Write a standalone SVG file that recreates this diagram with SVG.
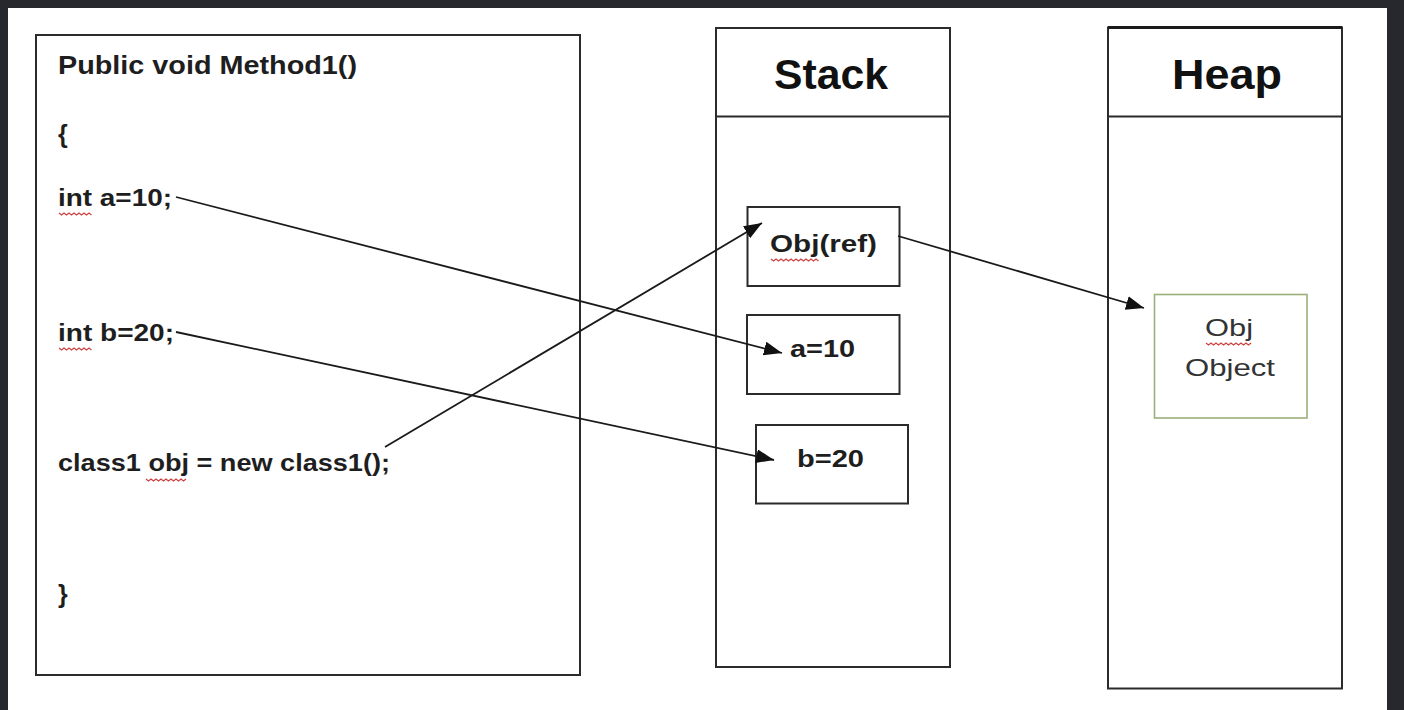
<svg xmlns="http://www.w3.org/2000/svg" width="1404" height="710" viewBox="0 0 1404 710">
  <style>
    .box { fill: #ffffff; stroke: #2b2b2b; stroke-width: 2; }
    .line { fill: none; stroke: #2b2b2b; stroke-width: 2; }
    .code { font-family: "Liberation Sans", Arial, sans-serif; font-weight: bold; fill: #1e1e1e; }
    .title { font-family: "Liberation Sans", Arial, sans-serif; font-weight: bold; font-size: 43px; fill: #111111; text-anchor: middle; }
    .cell { font-family: "Liberation Sans", Arial, sans-serif; font-weight: bold; font-size: 23px; fill: #1e1e1e; }
    .obj { font-family: "Liberation Sans", Arial, sans-serif; font-size: 24px; fill: #333333; }
    .conn { fill: none; stroke: #1a1a1a; stroke-width: 1.8; marker-end: url(#arrow); }
    .squig { fill: none; stroke: #d04040; stroke-width: 1.2; }
  </style>
  <defs>
    <marker id="arrow" markerUnits="userSpaceOnUse" markerWidth="20" markerHeight="16" refX="18" refY="7" orient="auto">
      <path d="M0,0 L18,7 L0,14 Z" fill="#111111"/>
    </marker>
  </defs>

  <rect x="0" y="0" width="1404" height="710" fill="#27282e"/>
  <rect x="8" y="8" width="1379" height="702" fill="#ffffff"/>

  <g id="method">
    <rect class="box" x="36" y="35" width="544" height="640"/>
    <text class="code" x="58" y="74" font-size="25" textLength="299" lengthAdjust="spacingAndGlyphs">Public void Method1()</text>
    <text class="code" x="58" y="143" font-size="25">{</text>
    <text class="code" x="58" y="206" font-size="24" textLength="114" lengthAdjust="spacingAndGlyphs">int a=10;</text>
    <path class="squig" d="M59,213 l2.5,2 l2.5,-2 l2.5,2 l2.5,-2 l2.5,2 l2.5,-2 l2.5,2 l2.5,-2 l2.5,2 l2.5,-2 l2.5,2 l2.5,-2 l2.5,2"/>
    <text class="code" x="58" y="341" font-size="24" textLength="116" lengthAdjust="spacingAndGlyphs">int b=20;</text>
    <path class="squig" d="M59,348 l2.5,2 l2.5,-2 l2.5,2 l2.5,-2 l2.5,2 l2.5,-2 l2.5,2 l2.5,-2 l2.5,2 l2.5,-2 l2.5,2 l2.5,-2 l2.5,2"/>
    <text class="code" x="58" y="471" font-size="24" textLength="332" lengthAdjust="spacingAndGlyphs">class1 obj = new class1();</text>
    <path class="squig" d="M146,479 l2.5,2 l2.5,-2 l2.5,2 l2.5,-2 l2.5,2 l2.5,-2 l2.5,2 l2.5,-2 l2.5,2 l2.5,-2 l2.5,2 l2.5,-2 l2.5,2 l2.5,-2 l2.5,2 l2.5,-2"/>
    <text class="code" x="58" y="603" font-size="25">}</text>
  </g>

  <g id="stack">
    <rect class="box" x="716" y="28" width="234" height="639"/>
    <line class="line" x1="716" y1="116.5" x2="950" y2="116.5"/>
    <text class="title" x="831" y="89" textLength="114" lengthAdjust="spacingAndGlyphs">Stack</text>
  </g>

  <g id="heap">
    <rect class="box" x="1108" y="27.5" width="234" height="661"/>
    <line x1="1108" y1="27.5" x2="1342" y2="27.5" stroke="#1a1a1a" stroke-width="3"/>
    <line class="line" x1="1108" y1="116.5" x2="1342" y2="116.5"/>
    <text class="title" x="1227" y="89" textLength="110" lengthAdjust="spacingAndGlyphs">Heap</text>
  </g>

  <g id="obj-ref">
    <rect class="box" x="747.5" y="207" width="152" height="79"/>
    <text class="cell" x="770" y="252" textLength="107" lengthAdjust="spacingAndGlyphs">Obj(ref)</text>
    <path class="squig" d="M771,259 l2.5,2 l2.5,-2 l2.5,2 l2.5,-2 l2.5,2 l2.5,-2 l2.5,2 l2.5,-2 l2.5,2 l2.5,-2 l2.5,2 l2.5,-2 l2.5,2 l2.5,-2 l2.5,2 l2.5,-2 l2.5,2 l2.5,-2 l2.5,2"/>
  </g>

  <g id="a10">
    <rect class="box" x="747" y="315" width="152.5" height="79"/>
    <text class="cell" x="790" y="357" textLength="65" lengthAdjust="spacingAndGlyphs">a=10</text>
  </g>

  <g id="b20">
    <rect class="box" x="756" y="425" width="152" height="78.5"/>
    <text class="cell" x="797" y="467" textLength="67" lengthAdjust="spacingAndGlyphs">b=20</text>
  </g>

  <g id="obj-object">
    <rect x="1154.5" y="294.5" width="152.5" height="123.5" fill="#ffffff" stroke="#9bb07a" stroke-width="1.6"/>
    <text class="obj" x="1229" y="336" text-anchor="middle" textLength="48" lengthAdjust="spacingAndGlyphs">Obj</text>
    <path class="squig" d="M1206,343 l2.5,2 l2.5,-2 l2.5,2 l2.5,-2 l2.5,2 l2.5,-2 l2.5,2 l2.5,-2 l2.5,2 l2.5,-2 l2.5,2 l2.5,-2 l2.5,2 l2.5,-2 l2.5,2 l2.5,-2 l2.5,2 l2.5,-2"/>
    <text class="obj" x="1230" y="376" text-anchor="middle" textLength="90" lengthAdjust="spacingAndGlyphs">Object</text>
  </g>

  <g id="connectors">
    <line class="conn" x1="176" y1="197" x2="782" y2="353"/>
    <line class="conn" x1="176" y1="332" x2="774" y2="460"/>
    <line class="conn" x1="385" y1="447" x2="762" y2="223"/>
    <line class="conn" x1="898" y1="236" x2="1144" y2="308"/>
  </g>
</svg>
